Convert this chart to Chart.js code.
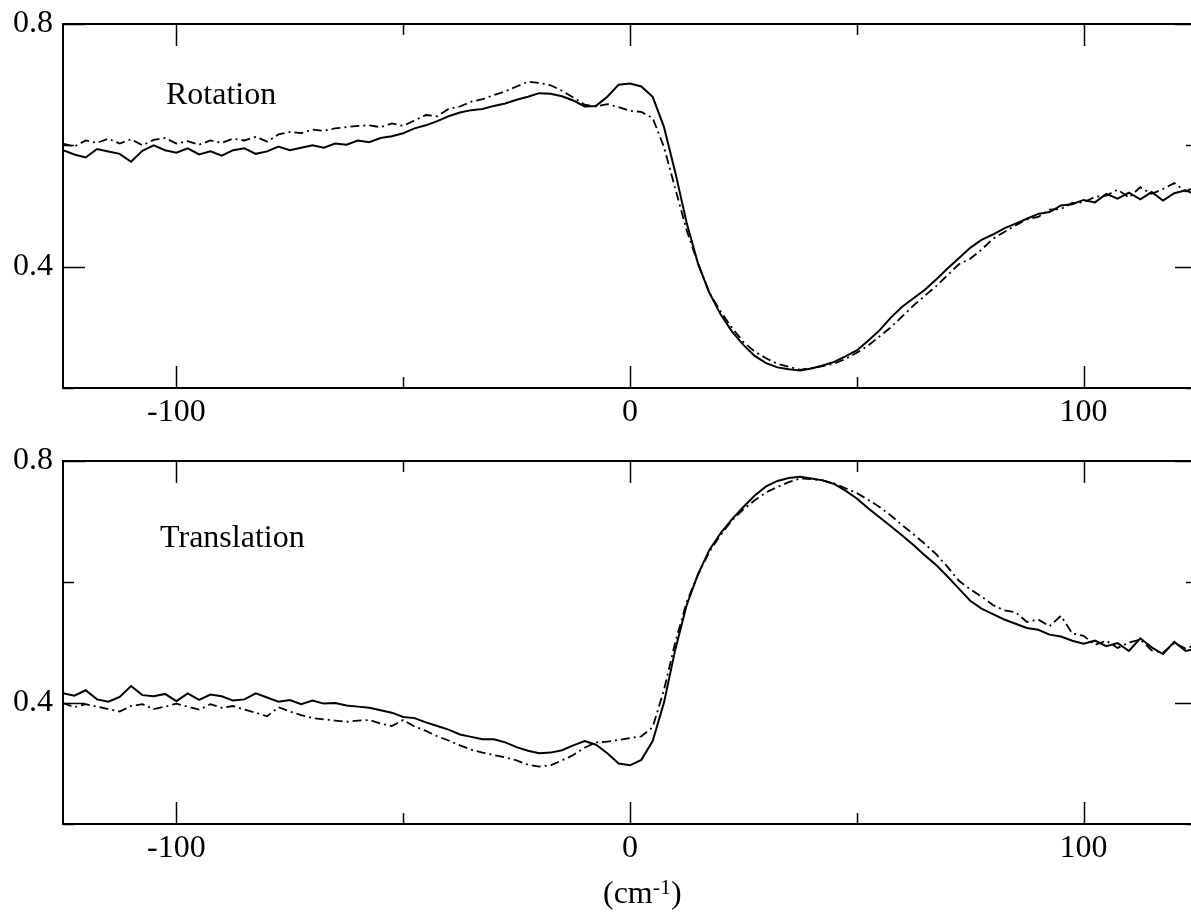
<!DOCTYPE html>
<html><head><meta charset="utf-8">
<script src="https://cdn.jsdelivr.net/npm/chart.js@4"></script>
<style>
html,body{margin:0;padding:0;overflow:hidden;background:#fff;width:1191px;height:913px;}
#w1{position:absolute;left:0;top:0;width:1200px;height:440px;}
#w2{position:absolute;left:0;top:440px;width:1200px;height:473px;}
</style></head><body>
<div id="w1"><canvas id="c1"></canvas></div>
<div id="w2"><canvas id="c2"></canvas></div>
<script>
// wavenumber (cm^-1)
const xValues = [-125,-122.5,-120,-117.5,-115,-112.5,-110,-107.5,-105,-102.5,
-100,-97.5,-95,-92.5,-90,-87.5,-85,-82.5,-80,-77.5,
-75,-72.5,-70,-67.5,-65,-62.5,-60,-57.5,-55,-52.5,
-50,-47.5,-45,-42.5,-40,-37.5,-35,-32.5,-30,-27.5,
-25,-22.5,-20,-17.5,-15,-12.5,-10,-7.5,-5,-2.5,
0,2.5,5,7.5,10,12.5,15,17.5,20,22.5,
25,27.5,30,32.5,35,37.5,40,42.5,45,47.5,
50,52.5,55,57.5,60,62.5,65,67.5,70,72.5,
75,77.5,80,82.5,85,87.5,90,92.5,95,97.5,
100,102.5,105,107.5,110,112.5,115,117.5,120,122.5,
125];

// Rotation panel
const rotSolid = [0.592,0.585,0.580,0.594,0.590,0.586,0.573,0.591,0.600,0.592,
0.588,0.595,0.585,0.590,0.583,0.592,0.595,0.586,0.590,0.598,
0.592,0.596,0.600,0.596,0.603,0.601,0.608,0.605,0.612,0.615,
0.620,0.628,0.633,0.640,0.648,0.654,0.658,0.660,0.665,0.669,
0.675,0.680,0.686,0.685,0.681,0.674,0.664,0.665,0.680,0.700,
0.702,0.697,0.680,0.630,0.555,0.472,0.405,0.357,0.321,0.293,
0.271,0.253,0.241,0.234,0.231,0.229,0.232,0.237,0.243,0.252,
0.262,0.278,0.295,0.316,0.334,0.348,0.362,0.379,0.397,0.414,
0.431,0.444,0.453,0.463,0.471,0.479,0.487,0.490,0.501,0.503,
0.510,0.506,0.520,0.512,0.522,0.511,0.523,0.509,0.521,0.526,
0.518];
const rotDash = [0.603,0.598,0.608,0.604,0.611,0.603,0.610,0.600,0.609,0.612,
0.603,0.607,0.601,0.608,0.604,0.611,0.608,0.614,0.606,0.618,
0.622,0.620,0.626,0.624,0.628,0.630,0.632,0.633,0.630,0.636,
0.632,0.641,0.650,0.648,0.660,0.664,0.672,0.676,0.683,0.689,
0.697,0.705,0.703,0.699,0.690,0.679,0.667,0.664,0.668,0.663,
0.657,0.655,0.645,0.597,0.528,0.460,0.405,0.357,0.326,0.299,
0.276,0.260,0.249,0.240,0.235,0.230,0.233,0.236,0.240,0.248,
0.258,0.270,0.285,0.300,0.318,0.336,0.352,0.368,0.386,0.404,
0.413,0.428,0.446,0.457,0.468,0.478,0.482,0.494,0.495,0.505,
0.506,0.515,0.517,0.527,0.514,0.531,0.520,0.528,0.538,0.524,
0.533];

// Translation panel
const trSolid = [0.416,0.412,0.421,0.406,0.402,0.410,0.428,0.413,0.411,0.415,
0.403,0.416,0.405,0.414,0.411,0.404,0.406,0.416,0.409,0.402,
0.405,0.398,0.404,0.399,0.400,0.396,0.394,0.392,0.388,0.384,
0.377,0.375,0.368,0.362,0.356,0.348,0.344,0.340,0.340,0.335,
0.327,0.321,0.317,0.318,0.322,0.330,0.337,0.331,0.317,0.300,
0.297,0.306,0.337,0.401,0.489,0.562,0.613,0.653,0.681,0.704,
0.724,0.743,0.758,0.767,0.772,0.774,0.771,0.768,0.762,0.751,
0.738,0.722,0.707,0.692,0.677,0.661,0.644,0.628,0.609,0.589,
0.569,0.556,0.547,0.538,0.531,0.524,0.521,0.513,0.510,0.503,
0.498,0.503,0.494,0.499,0.486,0.507,0.492,0.481,0.501,0.486,
0.490];
const trDash = [0.400,0.393,0.398,0.394,0.390,0.386,0.395,0.398,0.390,0.394,
0.399,0.394,0.389,0.398,0.392,0.395,0.389,0.384,0.378,0.393,
0.386,0.380,0.375,0.373,0.371,0.369,0.371,0.372,0.366,0.362,
0.372,0.361,0.354,0.345,0.338,0.330,0.323,0.318,0.314,0.310,
0.305,0.298,0.295,0.297,0.305,0.314,0.326,0.335,0.336,0.339,
0.342,0.345,0.360,0.422,0.501,0.567,0.612,0.650,0.678,0.702,
0.720,0.735,0.748,0.757,0.765,0.771,0.770,0.768,0.763,0.755,
0.747,0.736,0.724,0.710,0.694,0.679,0.663,0.646,0.625,0.602,
0.588,0.576,0.562,0.553,0.550,0.534,0.538,0.527,0.544,0.515,
0.511,0.496,0.503,0.491,0.500,0.505,0.487,0.483,0.499,0.490,
0.497];

const xMajorTicks = [-100, 0, 100];
const xMinorTicks = [-50, 50];
const yMajorTicks = [0.4, 0.8];
const yMinorTicks = [0.2, 0.6];
const panelLabels = ['Rotation', 'Translation'];
const labelX = [-102.3, -103.6];
const labelY = [0.668, 0.658];

const FONT = 'Liberation Serif';
const FS = 32;

const framePlugin = {
  id: 'frame',
  afterDraw(chart, args, opts) {
    const {ctx, chartArea: a, scales: {x, y}} = chart;
    ctx.save();
    ctx.strokeStyle = '#000';
    ctx.lineWidth = 2;
    ctx.beginPath();
    ctx.moveTo(a.left, a.top); ctx.lineTo(a.right, a.top); ctx.lineTo(a.right, a.bottom);
    ctx.stroke();
    ctx.lineWidth = 1.5;
    const seg = (x1, y1, x2, y2) => { ctx.beginPath(); ctx.moveTo(x1, y1); ctx.lineTo(x2, y2); ctx.stroke(); };
    const xt = (vals, len) => vals.forEach(v => { const p = Math.round(x.getPixelForValue(v)) + 0.5; seg(p, a.bottom, p, a.bottom - len); seg(p, a.top, p, a.top + len); });
    const yt = (vals, len) => vals.forEach(v => { const p = Math.round(y.getPixelForValue(v)) + 0.5; seg(a.left, p, a.left + len, p); seg(a.right, p, a.right - len, p); });
    xt(xMajorTicks, 22); xt(xMinorTicks, 11);
    yt(yMajorTicks, 22); yt(yMinorTicks, 11);
    ctx.fillStyle = '#000';
    ctx.font = FS + 'px "' + FONT + '"';
    ctx.textAlign = 'left';
    ctx.textBaseline = 'alphabetic';
    ctx.fillText(opts.label, x.getPixelForValue(opts.lx), y.getPixelForValue(opts.ly));
    if (opts.title) {
      const x0 = x.getPixelForValue(0) - 27;
      const base = a.bottom + 79;
      ctx.font = FS + 'px "' + FONT + '"';
      ctx.fillText('(cm', x0, base);
      const w1 = ctx.measureText('(cm').width;
      ctx.font = '22px "' + FONT + '"';
      ctx.fillText('-1', x0 + w1, base - 9);
      const w2 = ctx.measureText('-1').width;
      ctx.font = FS + 'px "' + FONT + '"';
      ctx.fillText(')', x0 + w1 + w2, base);
    }
    ctx.restore();
  }
};

function makePanel(id, solid, dashed, idx, padTop, xAxisHeight, title) {
  return new Chart(document.getElementById(id), {
    type: 'line',
    data: {
      datasets: [
        { data: xValues.map((v, i) => ({x: v, y: solid[i]})), borderColor: '#000', borderWidth: 2, pointRadius: 0, tension: 0, fill: false },
        { data: xValues.map((v, i) => ({x: v, y: dashed[i]})), borderColor: '#000', borderWidth: 1.8, borderDash: [9, 4, 2, 4], pointRadius: 0, tension: 0, fill: false }
      ]
    },
    options: {
      responsive: true, maintainAspectRatio: false, animation: false,
      layout: { padding: { top: padTop, right: 3, left: 0, bottom: 0 } },
      plugins: {
        legend: { display: false }, tooltip: { enabled: false },
        frame: { label: panelLabels[idx], lx: labelX[idx], ly: labelY[idx], title: title }
      },
      scales: {
        x: {
          type: 'linear', min: -125, max: 125,
          afterBuildTicks: s => { s.ticks = xMajorTicks.map(v => ({value: v})); },
          afterFit: s => { s.height = xAxisHeight; s.paddingLeft = 0; s.paddingRight = 0; },
          grid: { display: false, drawTicks: false },
          border: { display: true, color: '#000', width: 2 },
          ticks: { padding: 5, color: '#000', font: { family: FONT, size: FS }, maxRotation: 0, autoSkip: false, callback: v => String(v) }
        },
        y: {
          type: 'linear', min: 0.2, max: 0.8,
          afterBuildTicks: s => { s.ticks = yMajorTicks.map(v => ({value: v})); },
          afterFit: s => { s.width = 63; s.paddingTop = 0; s.paddingBottom = 0; },
          grid: { display: false, drawTicks: false },
          border: { display: true, color: '#000', width: 2 },
          ticks: { padding: 10, color: '#000', font: { family: FONT, size: FS, lineHeight: 1 }, callback: v => Number(v).toFixed(1) }
        }
      }
    },
    plugins: [framePlugin]
  });
}

makePanel('c1', rotSolid, rotDash, 0, 24, 52, false);
makePanel('c2', trSolid, trDash, 1, 21, 89, true);
</script>
</body></html>
